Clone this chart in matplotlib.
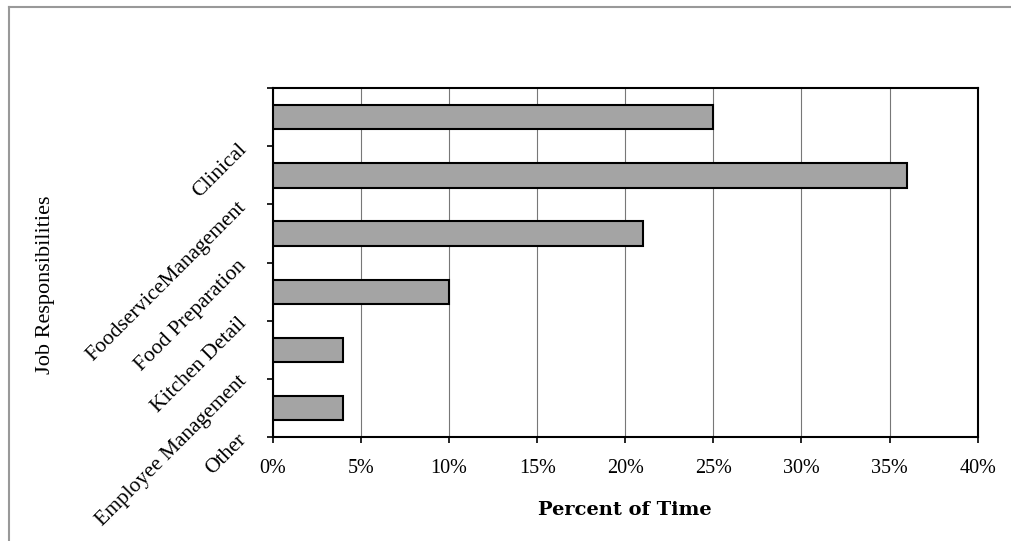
import matplotlib
matplotlib.use("Agg")
import matplotlib.pyplot as plt
from matplotlib.lines import Line2D
import numpy as np

categories = ["Clinical", "FoodserviceManagement", "Food Preparation",
              "Kitchen Detail", "Employee Management", "Other"]
values = [25, 36, 21, 10, 4, 4]
xticks = [0, 5, 10, 15, 20, 25, 30, 35, 40]
xtick_labels = ["0%", "5%", "10%", "15%", "20%", "25%", "30%", "35%", "40%"]

fig = plt.figure(figsize=(10.11, 5.41), dpi=100)
ax = fig.add_axes([0.270, 0.192, 0.697, 0.645])

pos = np.arange(len(categories))
ax.barh(pos, values, height=0.42, color="#a4a4a4", edgecolor="black",
        linewidth=1.5, zorder=3)

ax.set_xlim(0, 40)
ax.set_ylim(len(categories) - 0.5, -0.5)
ax.set_xticks(xticks)
ax.set_xticklabels(xtick_labels, fontfamily="Liberation Serif", fontsize=14.5)
ax.grid(axis="x", color="#777777", linewidth=0.8, zorder=0)

ytick_pos = list(np.arange(-0.5, len(categories), 1.0))
ax.set_yticks(ytick_pos)
ax.set_yticklabels([""] + categories, fontfamily="Liberation Serif",
                   fontsize=15.5, rotation=45, ha="right", va="center",
                   rotation_mode="anchor")

ax.tick_params(axis="x", direction="out", length=4, width=1.2, pad=12)
ax.tick_params(axis="y", direction="out", length=4, width=1.2, pad=17)
for s in ax.spines.values():
    s.set_linewidth(1.5)
    s.set_color("black")

ax.set_xlabel("Percent of Time", fontfamily="DejaVu Serif", fontweight="bold",
              fontsize=14, labelpad=16)
fig.text(0.045, 0.473, "Job Responsibilities", rotation=90,
         fontfamily="Liberation Serif", fontsize=16, ha="center", va="center")

# outer frame (top and left edges visible)
fig.add_artist(Line2D([0.009, 1.0], [0.987, 0.987], transform=fig.transFigure,
                      color="#999999", linewidth=1.5))
fig.add_artist(Line2D([0.009, 0.009], [0.0, 0.987], transform=fig.transFigure,
                      color="#999999", linewidth=1.5))

fig.savefig("out.png", dpi=100)
